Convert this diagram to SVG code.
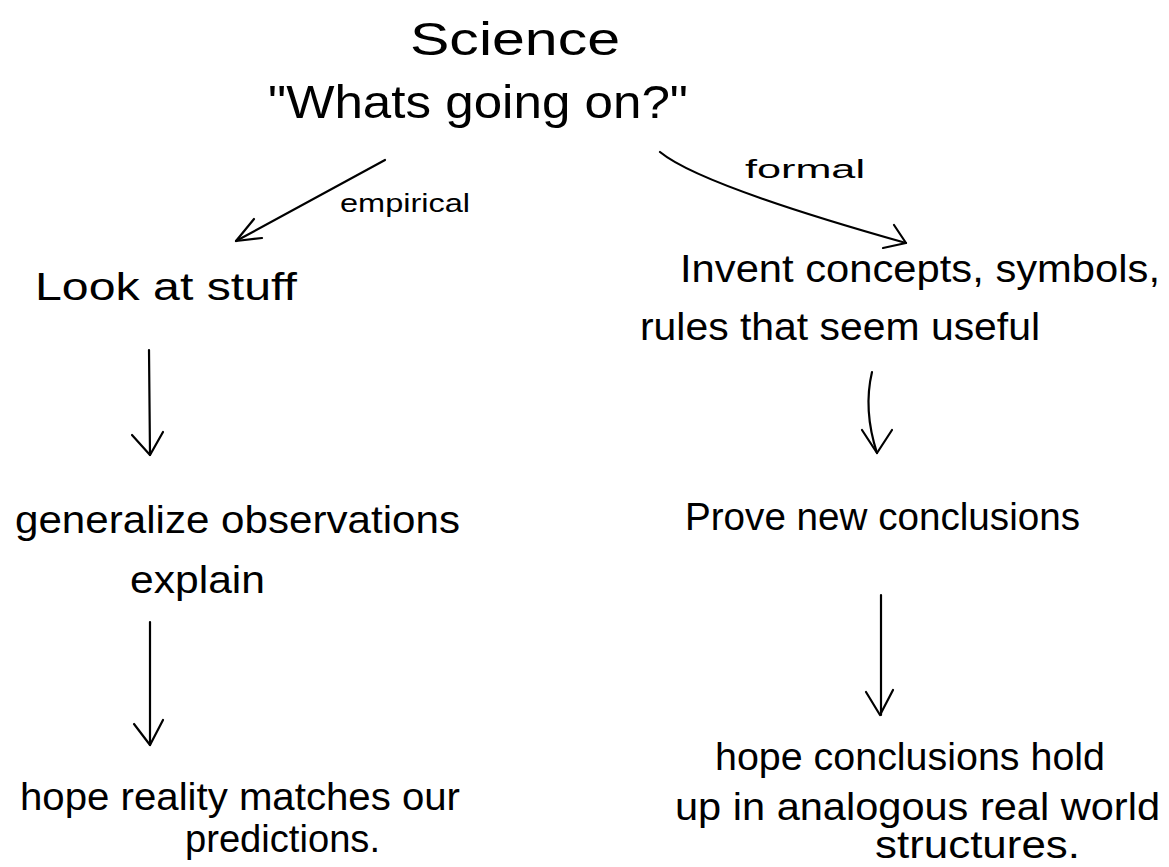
<svg xmlns="http://www.w3.org/2000/svg" width="1169" height="867" viewBox="0 0 1169 867">
  <style>
    .t { font-family: "Liberation Sans", Arial, sans-serif; fill: #000; }
    .big { font-size: 46px; }
    .mid { font-size: 38px; }
    .sm { font-size: 26px; }
    .ln { fill: none; stroke: #000; stroke-width: 2.2; stroke-linecap: round; stroke-linejoin: round; }
  </style>
  <rect width="1169" height="867" fill="#fff"/>

  <g id="root">
    <text class="t big" x="515" y="55" text-anchor="middle" textLength="210" lengthAdjust="spacingAndGlyphs">Science</text>
    <text class="t big" x="478" y="118" text-anchor="middle" textLength="420" lengthAdjust="spacingAndGlyphs">"Whats going on?"</text>
  </g>

  <g id="empirical-1">
    <text class="t mid" x="35" y="300" textLength="262" lengthAdjust="spacingAndGlyphs">Look at stuff</text>
  </g>
  <g id="empirical-2">
    <text class="t mid" x="15" y="533" textLength="445" lengthAdjust="spacingAndGlyphs">generalize observations</text>
    <text class="t mid" x="130" y="593" textLength="135" lengthAdjust="spacingAndGlyphs">explain</text>
  </g>
  <g id="empirical-3">
    <text class="t mid" x="20" y="810" textLength="440" lengthAdjust="spacingAndGlyphs">hope reality matches our</text>
    <text class="t mid" x="185" y="852" textLength="195" lengthAdjust="spacingAndGlyphs">predictions.</text>
  </g>

  <g id="formal-1">
    <text class="t mid" x="680" y="282" textLength="480" lengthAdjust="spacingAndGlyphs">Invent concepts, symbols,</text>
    <text class="t mid" x="640" y="340" textLength="400" lengthAdjust="spacingAndGlyphs">rules that seem useful</text>
  </g>
  <g id="formal-2">
    <text class="t mid" x="685" y="530" textLength="395" lengthAdjust="spacingAndGlyphs">Prove new conclusions</text>
  </g>
  <g id="formal-3">
    <text class="t mid" x="715" y="770" textLength="390" lengthAdjust="spacingAndGlyphs">hope conclusions hold</text>
    <text class="t mid" x="675" y="820" textLength="485" lengthAdjust="spacingAndGlyphs">up in analogous real world</text>
    <text class="t mid" x="875" y="858" textLength="205" lengthAdjust="spacingAndGlyphs">structures.</text>
  </g>

  <g id="connectors">
    <!-- root to empirical branch -->
    <path class="ln" d="M385 160 L236 241"/>
    <path class="ln" d="M262 238 L236 241 L254 219"/>
    <text class="t sm" x="340" y="212" textLength="130" lengthAdjust="spacingAndGlyphs">empirical</text>
    <!-- root to formal branch -->
    <path class="ln" d="M660 152 Q700 185 906 243"/>
    <path class="ln" d="M894 225 L906 243 L883 248"/>
    <text class="t sm" x="745" y="178" textLength="120" lengthAdjust="spacingAndGlyphs">formal</text>
    <!-- empirical chain -->
    <path class="ln" d="M149 350 L150 455"/>
    <path class="ln" d="M132 435 L150 455 L163 432"/>
    <path class="ln" d="M150 622 L150 745"/>
    <path class="ln" d="M134 724 L150 745 L163 720"/>
    <!-- formal chain -->
    <path class="ln" d="M872 372 Q863 410 877 453"/>
    <path class="ln" d="M862 430 L877 453 L892 430"/>
    <path class="ln" d="M881 595 L881 715"/>
    <path class="ln" d="M866 692 L880 715 L893 690"/>
  </g>
</svg>
